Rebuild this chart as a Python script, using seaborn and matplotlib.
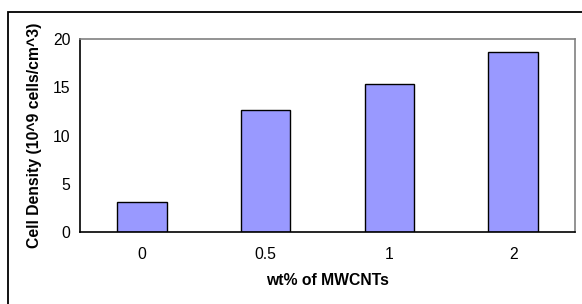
import matplotlib
matplotlib.use("Agg")
import matplotlib.pyplot as plt
import pandas as pd
import seaborn as sns
from matplotlib.patches import Rectangle

# ---- Data ----
wt_pct = ["0", "0.5", "1", "2"]
cell_density = [3.1, 12.6, 15.3, 18.65]

df = pd.DataFrame({"wt": wt_pct, "density": cell_density})

sns.set_style("white", {"text.color": "black", "axes.labelcolor": "black",
                        "xtick.color": "black", "ytick.color": "black"})
plt.rcParams["font.family"] = ["Liberation Sans", "DejaVu Sans"]
FS = 11.3

fig = plt.figure(figsize=(5.82, 3.04), dpi=100)
ax = fig.add_axes([80 / 582, 72 / 304, 495 / 582, 193 / 304])

sns.barplot(data=df, x="wt", y="density", order=wt_pct, color="#9999ff",
            saturation=1, width=0.4, edgecolor="black", linewidth=1, ax=ax)

ax.set_xlim(-0.5, 3.5)
ax.set_ylim(0, 20)
ax.set_yticks([0, 5, 10, 15, 20])

# category boundary ticks, labels centred under bars
ax.set_xticks([i - 0.5 for i in range(len(wt_pct) + 1)], minor=True)
ax.tick_params(axis="x", which="major", length=0, pad=11, labelsize=FS, labelcolor="black")
ax.tick_params(axis="x", which="minor", length=5, width=1, direction="out", color="black")
ax.tick_params(axis="y", length=5, width=1, direction="out", color="black",
               labelsize=FS, labelcolor="black", pad=2)

ax.set_xlabel("wt% of MWCNTs", fontsize=FS, fontweight="bold", labelpad=8, color="black")
ax.set_ylabel("Cell Density (10^9 cells/cm^3)", fontsize=FS, fontweight="bold",
              labelpad=8, color="black")

for side in ["left", "bottom"]:
    ax.spines[side].set_color("black")
    ax.spines[side].set_linewidth(1.2)
for side in ["top", "right"]:
    ax.spines[side].set_visible(True)
    ax.spines[side].set_color("#808080")
    ax.spines[side].set_linewidth(1.2)

# outer chart frame (runs off the right and bottom edges)
frame = Rectangle((8 / 582, -0.1), 1.2, 1 - 12.5 / 304 + 0.1, transform=fig.transFigure,
                  fill=False, edgecolor="black", linewidth=1.3, clip_on=False)
fig.patches.append(frame)

fig.savefig("out.png", dpi=100)
plt.close(fig)
